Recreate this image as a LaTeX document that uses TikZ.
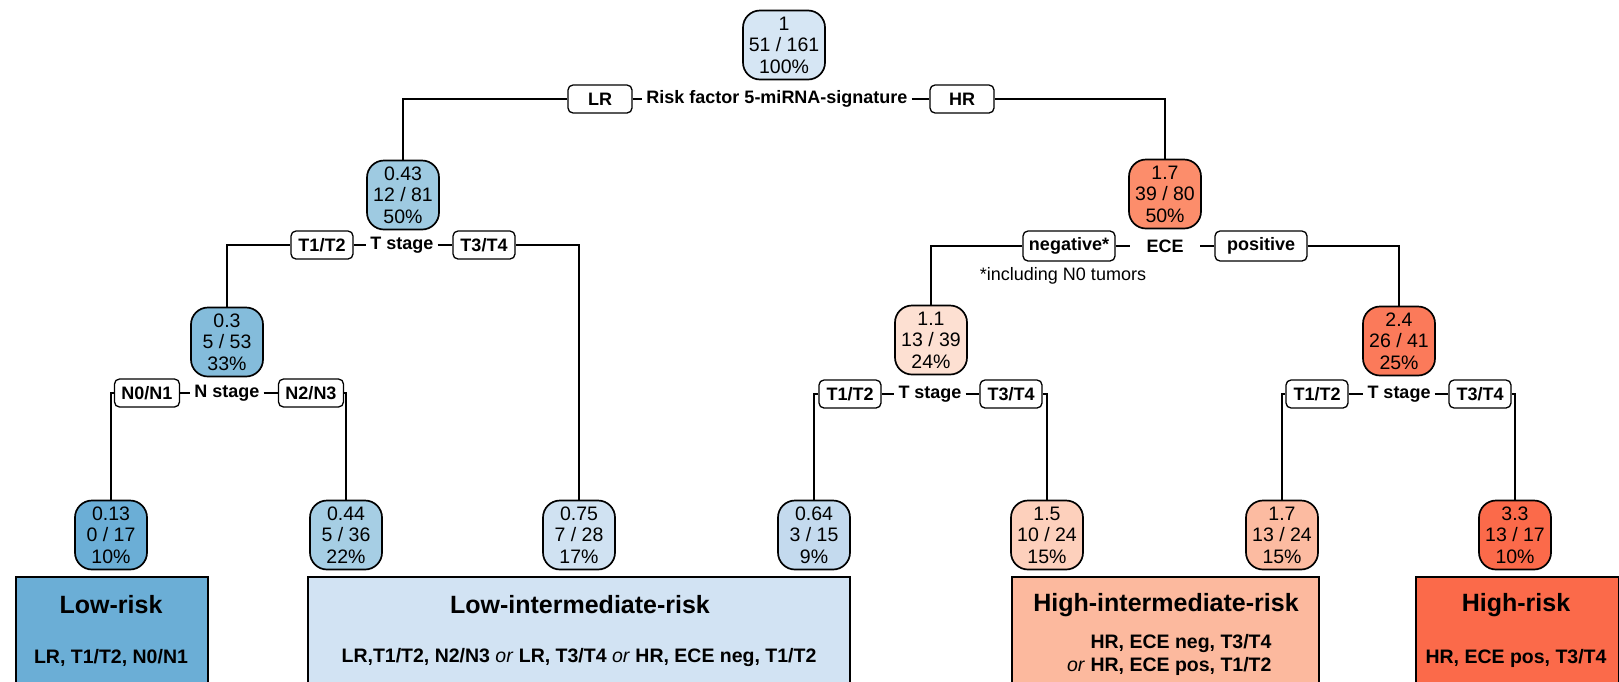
\documentclass[tikz,border=0pt]{standalone}
\usepackage{fontspec}
\setmainfont{Liberation Sans}
\definecolor{cRoot}{HTML}{D6E6F4}
\definecolor{cA}{HTML}{9ECAE1}
\definecolor{cB}{HTML}{84BCDB}
\definecolor{cC}{HTML}{6BAED6}
\definecolor{cD}{HTML}{A6CEE4}
\definecolor{cE}{HTML}{D0E2F2}
\definecolor{cF}{HTML}{C4DAEE}
\definecolor{cLI}{HTML}{D2E3F3}
\definecolor{rA}{HTML}{FC8D6B}
\definecolor{rB}{HTML}{FDE0D2}
\definecolor{rC}{HTML}{FB7A5A}
\definecolor{rD}{HTML}{FDD0BC}
\definecolor{rE}{HTML}{FCBBA1}
\definecolor{rF}{HTML}{FB6A4A}
\definecolor{rHI}{HTML}{FCB99E}
\begin{document}
\begin{tikzpicture}[x=1pt,y=-1pt,
  tnode/.style={draw, line width=1.7pt, rounded corners=17pt, align=center,
    minimum width=72pt, minimum height=69pt, inner sep=1pt,
    font=\fontsize{19.5}{21.5}\selectfont},
  lab/.style={draw, fill=white, line width=1.3pt, rounded corners=5pt,
    font=\bfseries\fontsize{18}{20}\selectfont, minimum height=28pt,
    inner xsep=6pt, inner ysep=2pt},
  spl/.style={font=\bfseries\fontsize{18}{20}\selectfont, inner xsep=4pt},
  edge/.style={line width=1.3pt},
  riskbox/.style={draw, line width=1.6pt, anchor=north west, inner sep=0pt},
  rtitle/.style={font=\bfseries\fontsize{25}{28}\selectfont},
  rtext/.style={font=\bfseries\fontsize{19.5}{23}\selectfont}
]
\useasboundingbox (0,0) rectangle (1619,681);
\clip (0,0) rectangle (1619,681);

% tree nodes
\node[tnode, fill=cRoot, minimum width=82pt] (root) at (784,45) {1\\51 / 161\\100\%};
\node[tnode, fill=cA] (n043) at (403,195) {0.43\\12 / 81\\50\%};
\node[tnode, fill=rA] (n17) at (1165,194) {1.7\\39 / 80\\50\%};
\node[tnode, fill=cB] (n03) at (227,342) {0.3\\5 / 53\\33\%};
\node[tnode, fill=rB] (n11) at (931,340) {1.1\\13 / 39\\24\%};
\node[tnode, fill=rC] (n24) at (1399,341) {2.4\\26 / 41\\25\%};
\node[tnode, fill=cC] (l1) at (111,535) {0.13\\0 / 17\\10\%};
\node[tnode, fill=cD] (l2) at (346,535) {0.44\\5 / 36\\22\%};
\node[tnode, fill=cE] (l3) at (579,535) {0.75\\7 / 28\\17\%};
\node[tnode, fill=cF] (l4) at (814,535) {0.64\\3 / 15\\9\%};
\node[tnode, fill=rD] (l5) at (1047,535) {1.5\\10 / 24\\15\%};
\node[tnode, fill=rE] (l6) at (1282,535) {1.7\\13 / 24\\15\%};
\node[tnode, fill=rF] (l7) at (1515,535) {3.3\\13 / 17\\10\%};

% split 1
\node[lab, minimum width=64pt] (lr) at (600,99) {LR};
\node[spl] (s1) at (777,99) {Risk factor 5-miRNA-signature};
\node[lab, minimum width=64pt] (hr) at (962,99) {HR};
\draw[edge] (n043.north) |- (lr.west);
\draw[edge] (lr.east) -- (s1.west);
\draw[edge] (s1.east) -- (hr.west);
\draw[edge] (hr.east) -| (n17.north);

% split 2 left
\node[lab, minimum width=62pt] (ta) at (322,245) {T1/T2};
\node[spl] (s2) at (402,245) {T stage};
\node[lab, minimum width=62pt] (tb) at (484,245) {T3/T4};
\draw[edge] (n03.north) |- (ta.west);
\draw[edge] (ta.east) -- (s2.west);
\draw[edge] (s2.east) -- (tb.west);
\draw[edge] (tb.east) -| (l3.north);

% split 2 right
\node[lab, minimum width=92pt, minimum height=30pt] (neg) at (1069,246) {negative*};
\node[spl, minimum width=70pt] (s3) at (1165,246) {ECE};
\node[lab, minimum width=92pt, minimum height=30pt] (pos) at (1261,246) {positive};
\node[font=\fontsize{18}{20}\selectfont] (note) at (1063,276) {*including N0 tumors};
\draw[edge] (n11.north) |- (neg.west);
\draw[edge] (neg.east) -- (s3.west);
\draw[edge] (s3.east) -- (pos.west);
\draw[edge] (pos.east) -| (n24.north);

% split 3: N stage
\node[lab, minimum width=65pt] (na) at (147,393) {N0/N1};
\node[spl] (s4) at (227,393) {N stage};
\node[lab, minimum width=65pt] (nb) at (311,393) {N2/N3};
\draw[edge] (l1.north) |- (na.west);
\draw[edge] (na.east) -- (s4.west);
\draw[edge] (s4.east) -- (nb.west);
\draw[edge] (nb.east) -| (l2.north);

% split 3: T stage (ECE neg)
\node[lab, minimum width=62pt] (tc) at (850,394) {T1/T2};
\node[spl] (s5) at (930,394) {T stage};
\node[lab, minimum width=62pt] (td) at (1011,394) {T3/T4};
\draw[edge] (l4.north) |- (tc.west);
\draw[edge] (tc.east) -- (s5.west);
\draw[edge] (s5.east) -- (td.west);
\draw[edge] (td.east) -| (l5.north);

% split 3: T stage (ECE pos)
\node[lab, minimum width=62pt] (te) at (1317,394) {T1/T2};
\node[spl] (s6) at (1399,394) {T stage};
\node[lab, minimum width=62pt] (tf) at (1480,394) {T3/T4};
\draw[edge] (l6.north) |- (te.west);
\draw[edge] (te.east) -- (s6.west);
\draw[edge] (s6.east) -- (tf.west);
\draw[edge] (tf.east) -| (l7.north);

% risk groups
\node[riskbox, fill=cC, minimum width=192pt, minimum height=130pt] (g1) at (15,576) {};
\node[rtitle] (g1t) at (111,605) {Low-risk};
\node[rtext] (g1x) at (111,658) {LR, T1/T2, N0/N1};

\node[riskbox, fill=cLI, minimum width=542pt, minimum height=130pt] (g2) at (307,576) {};
\node[rtitle] (g2t) at (580,605) {Low-intermediate-risk};
\node[rtext] (g2x) at (579,657) {LR,T1/T2, N2/N3 \textit{\mdseries or} LR, T3/T4 \textit{\mdseries or} HR, ECE neg, T1/T2};

\node[riskbox, fill=rHI, minimum width=307pt, minimum height=130pt] (g3) at (1011,576) {};
\node[rtitle] (g3t) at (1166,605) {High-intermediate-risk};
\node[rtext, align=right, anchor=east] (g3x) at (1275,655) {HR, ECE neg, T3/T4\\\textit{\mdseries or} HR, ECE pos, T1/T2};

\node[riskbox, fill=rF, minimum width=203pt, minimum height=130pt] (g4) at (1415,576) {};
\node[rtitle] (g4t) at (1516,605) {High-risk};
\node[rtext] (g4x) at (1516,658) {HR, ECE pos, T3/T4};
\end{tikzpicture}
\end{document}
